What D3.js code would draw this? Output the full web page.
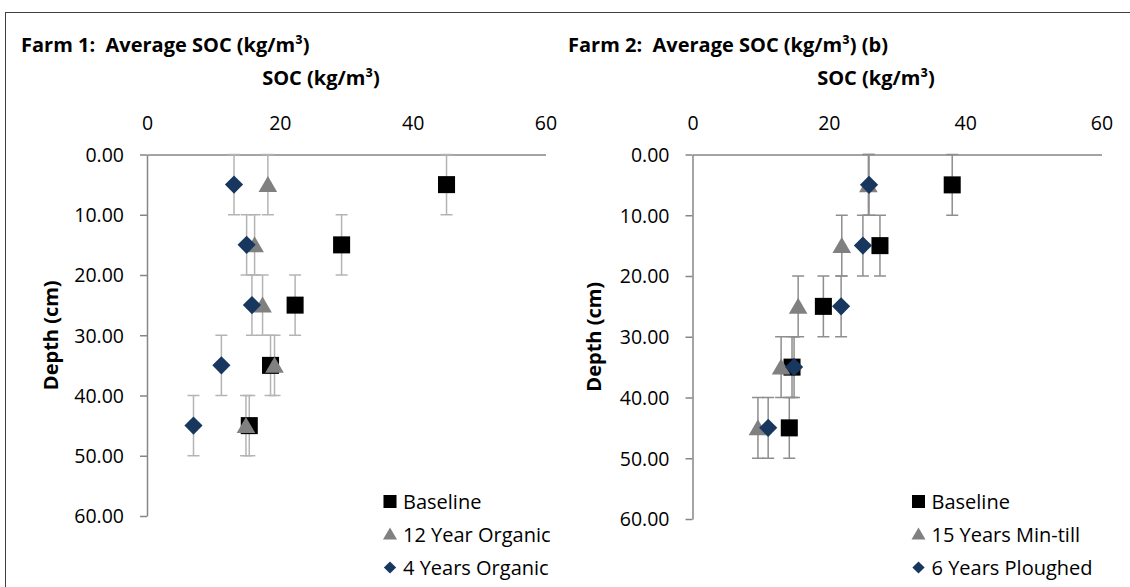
<!DOCTYPE html>
<html>
<head>
<meta charset="utf-8">
<script src="https://cdn.jsdelivr.net/npm/d3@7/dist/d3.min.js"></script>
<style>
  html, body { margin: 0; padding: 0; background: #fff; }
  svg { display: block; }
  text { font-family: "Open Sans", sans-serif; fill: #000; white-space: pre; }
</style>
</head>
<body>
<svg id="chart" width="1130" height="587"></svg>
<script>
// ---------- data ----------
const depths = [5, 15, 25, 35, 45];           // depth mid-points (cm)
const depthError = [5, 5, 5, 5, 5];           // +/- depth error (cm)
const xTicks = [0, 20, 40, 60];
const yTicks = [0, 10, 20, 30, 40, 50, 60];

// Farm 1
const farm1Names = ["Baseline", "12 Year Organic", "4 Years Organic"];
const farm1Baseline = [45.1, 29.3, 22.3, 18.6, 15.4];
const farm1Organic12 = [18.2, 16.2, 17.4, 19.2, 14.9];
const farm1Organic4 = [13.1, 15.0, 15.8, 11.2, 7.0];

// Farm 2
const farm2Names = ["Baseline", "15 Years Min-till", "6 Years Ploughed"];
const farm2Baseline = [38.1, 27.5, 19.2, 14.6, 14.2];
const farm2MinTill15 = [25.8, 21.9, 15.5, 13.0, 9.6];
const farm2Ploughed6 = [25.9, 25.0, 21.8, 14.9, 11.1];

// ---------- drawing ----------
const svg = d3.select("#chart");

// outer frame
svg.append("rect")
  .attr("x", 5.5).attr("y", 12.5)
  .attr("width", 1130).attr("height", 600)
  .attr("fill", "none").attr("stroke", "#404040").attr("stroke-width", 1);

const markerStyles = [
  { type: d3.symbolSquare, size: 290, legendSize: 170, color: "#000000", rot: 0, dy: 0 },
  { type: d3.symbolTriangle, size: 150, legendSize: 85, color: "#808080", rot: 0, dy: 2 },
  { type: d3.symbolSquare, size: 165, legendSize: 75, color: "#17375E", rot: 45, dy: 0 }
];

function drawPanel(p) {
  const g = svg.append("g");
  const x = d3.scaleLinear().domain([0, 60]).range([p.x0, p.x1]);
  const y = d3.scaleLinear().domain([0, 60]).range([p.y0, p.y1]);

  // titles
  g.append("text").attr("x", p.titleX).attr("y", 52)
    .attr("font-size", 20).attr("font-weight", 700)
    .text(p.title);
  g.append("text").attr("x", p.axisTitleX).attr("y", 85)
    .attr("font-size", 20).attr("font-weight", 700)
    .attr("text-anchor", "middle")
    .text("SOC (kg/m³)");
  g.append("text")
    .attr("transform", `translate(${p.depthLabelX},${(p.y0 + p.y1) / 2}) rotate(-90)`)
    .attr("font-size", 20).attr("font-weight", 700)
    .attr("text-anchor", "middle").attr("dominant-baseline", "central")
    .text("Depth (cm)");

  // x axis (top, no ticks)
  const xAxis = g.append("g").attr("transform", `translate(0,${p.y0})`)
    .call(d3.axisTop(x).tickValues(xTicks).tickSize(0).tickPadding(0).tickFormat(d3.format("d")));
  xAxis.select(".domain").attr("stroke", "#868686").attr("stroke-width", 1.5);
  xAxis.selectAll("text")
    .attr("font-family", "Open Sans").attr("font-size", 19.5).attr("fill", "#000")
    .attr("y", 130 - p.y0).attr("dy", 0);

  // y axis (left, outside ticks)
  const yAxis = g.append("g").attr("transform", `translate(${p.x0},0)`)
    .call(d3.axisLeft(y).tickValues(yTicks).tickSize(7).tickSizeOuter(0).tickPadding(16).tickFormat(d3.format(".2f")));
  yAxis.select(".domain").attr("stroke", "#868686").attr("stroke-width", 1.5);
  yAxis.selectAll(".tick line").attr("stroke", "#868686").attr("stroke-width", 1.5);
  yAxis.selectAll("text")
    .attr("font-family", "Open Sans").attr("font-size", 19.5).attr("fill", "#000")
    .attr("dy", "0.35em");

  // error bars (all series first)
  p.series.forEach((vals) => {
    vals.forEach((v, i) => {
      const cx = x(v);
      const yt = y(depths[i] - depthError[i]);
      const yb = y(depths[i] + depthError[i]);
      g.append("line").attr("x1", cx).attr("x2", cx).attr("y1", yt).attr("y2", yb)
        .attr("stroke", p.errColor).attr("stroke-width", 1.5);
      [yt, yb].forEach(yy => {
        g.append("line").attr("x1", cx - 6).attr("x2", cx + 6).attr("y1", yy).attr("y2", yy)
          .attr("stroke", p.errColor).attr("stroke-width", 1.5);
      });
    });
  });

  // markers
  p.series.forEach((vals, s) => {
    const st = markerStyles[s];
    g.selectAll(null).data(vals).enter().append("path")
      .attr("d", d3.symbol().type(st.type).size(st.size))
      .attr("transform", (v, i) => `translate(${x(v)},${y(depths[i]) + st.dy}) rotate(${st.rot})`)
      .attr("fill", st.color);
  });

  // legend
  p.names.forEach((name, s) => {
    const st = markerStyles[s];
    const ly = p.legendY + s * 33;
    g.append("path")
      .attr("d", d3.symbol().type(st.type).size(st.legendSize))
      .attr("transform", `translate(${p.legendX},${ly + (s === 1 ? 1 : 0)}) rotate(${st.rot})`)
      .attr("fill", st.color);
    g.append("text").attr("x", p.legendX + 13).attr("y", ly)
      .attr("dy", "0.35em").attr("font-size", 20)
      .text(name);
  });
}

drawPanel({
  title: "Farm 1:  Average SOC (kg/m³)",
  titleX: 21, axisTitleX: 321, depthLabelX: 50,
  x0: 147, x1: 545.5, y0: 154.5, y1: 516,
  errColor: "#b4b4b4",
  series: [farm1Baseline, farm1Organic12, farm1Organic4],
  names: farm1Names,
  legendX: 390, legendY: 501.5
});

drawPanel({
  title: "Farm 2:  Average SOC (kg/m³) (b)",
  titleX: 568, axisTitleX: 876, depthLabelX: 593,
  x0: 692.5, x1: 1101.5, y0: 154.5, y1: 519,
  errColor: "#8e8e8e",
  series: [farm2Baseline, farm2MinTill15, farm2Ploughed6],
  names: farm2Names,
  legendX: 918.5, legendY: 501.5
});
</script>
</body>
</html>
